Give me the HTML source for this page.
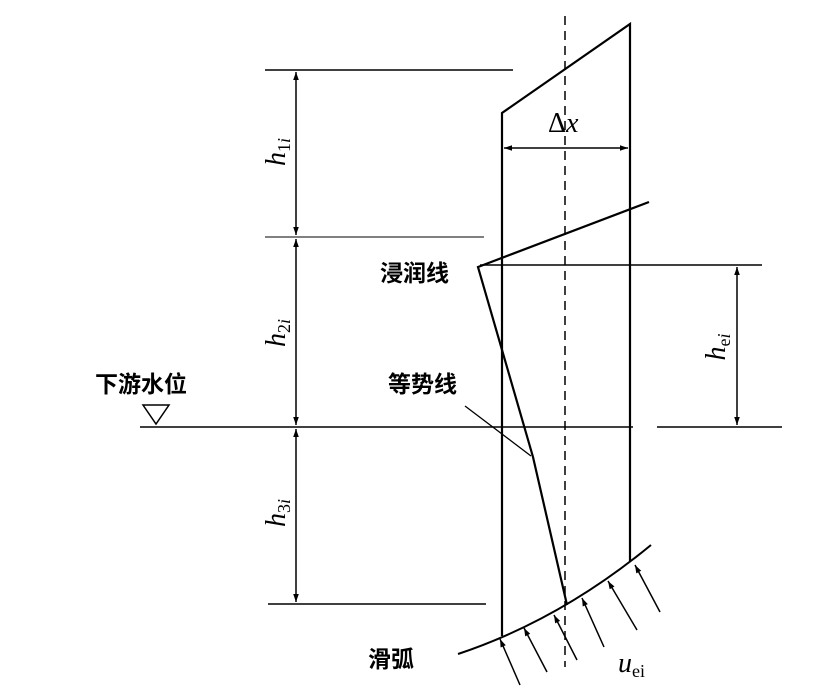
<!DOCTYPE html>
<html><head><meta charset="utf-8"><style>
html,body{margin:0;padding:0;background:#fff;}
svg{display:block}
.cn{font-family:"Liberation Sans","Noto Sans CJK SC",sans-serif;font-size:23px;font-weight:bold;fill:#000}
.it{font-family:"Liberation Serif",serif;font-style:italic;font-size:28px;fill:#000}
.up{font-family:"Liberation Serif",serif;font-size:28px;fill:#000}
.sub{font-family:"Liberation Serif",serif;font-size:18px;fill:#000}
</style></head><body>
<svg width="826" height="691" viewBox="0 0 826 691" xmlns="http://www.w3.org/2000/svg">
<defs>
<marker id="a" viewBox="0 0 10 10" refX="10" refY="5" markerWidth="12" markerHeight="8" orient="auto-start-reverse" markerUnits="userSpaceOnUse"><path d="M0,1.5 L10,5 L0,8.5 z" fill="#000"/></marker>
<marker id="b" viewBox="0 0 10 10" refX="10" refY="5" markerWidth="14" markerHeight="8" orient="auto-start-reverse" markerUnits="userSpaceOnUse"><path d="M0,1.5 L10,5 L0,8.5 z" fill="#000"/></marker>
</defs>
<g stroke="#000" fill="none">
<line x1="265" y1="70" x2="513" y2="70" stroke-width="1.5"/>
<line x1="265" y1="237" x2="484" y2="237" stroke-width="1"/>
<line x1="140" y1="427" x2="633" y2="427" stroke-width="1.5"/>
<line x1="657" y1="427" x2="782" y2="427" stroke-width="1.5"/>
<line x1="268" y1="604" x2="486" y2="604" stroke-width="1.5"/>
<line x1="480" y1="265" x2="762" y2="265" stroke-width="1.5"/>
<polyline points="502,636 502,113 630,24 630,561" stroke-width="2.2"/>
<line x1="565" y1="16" x2="565" y2="667" stroke-width="1.5" stroke-dasharray="9,6"/>
<line x1="504" y1="148" x2="628" y2="148" stroke-width="1.5" marker-start="url(#b)" marker-end="url(#b)"/>
<polyline points="649,202 478,267 533,457 567,605" stroke-width="2.2"/>
<line x1="465" y1="406" x2="531" y2="456" stroke-width="1.3"/>
<path d="M458,654 Q560,620 651,545" stroke-width="2"/>
<line x1="296" y1="72" x2="296" y2="235" stroke-width="1.5" marker-start="url(#a)" marker-end="url(#a)"/>
<line x1="296" y1="239" x2="296" y2="425" stroke-width="1.5" marker-start="url(#a)" marker-end="url(#a)"/>
<line x1="296" y1="429" x2="296" y2="602" stroke-width="1.5" marker-start="url(#a)" marker-end="url(#a)"/>
<line x1="737" y1="267" x2="737" y2="425" stroke-width="1.5" marker-start="url(#a)" marker-end="url(#a)"/>
<polygon points="143,405 169,405 156,424" stroke-width="1.5"/>
<g stroke-width="1.5">
<line x1="520" y1="685" x2="500" y2="639" marker-end="url(#a)"/>
<line x1="547" y1="672" x2="524" y2="628" marker-end="url(#a)"/>
<line x1="577" y1="660" x2="554" y2="615" marker-end="url(#a)"/>
<line x1="604" y1="647" x2="582" y2="598" marker-end="url(#a)"/>
<line x1="637" y1="630" x2="608" y2="581" marker-end="url(#a)"/>
<line x1="660" y1="612" x2="635" y2="565" marker-end="url(#a)"/>
</g>
</g>
<text x="548" y="132"><tspan class="up">Δ</tspan><tspan class="it">x</tspan></text>
<text class="cn" x="380" y="281">浸润线</text>
<text class="cn" x="388" y="392">等势线</text>
<text class="cn" x="95" y="392">下游水位</text>
<text class="cn" x="368" y="667">滑弧</text>
<text x="618" y="672"><tspan class="it">u</tspan><tspan class="sub" dy="5">ei</tspan></text>
<g transform="translate(285,152) rotate(-90)"><text text-anchor="middle"><tspan class="it">h</tspan><tspan class="sub" dy="5">1<tspan font-style="italic">i</tspan></tspan></text></g>
<g transform="translate(285,333) rotate(-90)"><text text-anchor="middle"><tspan class="it">h</tspan><tspan class="sub" dy="5">2<tspan font-style="italic">i</tspan></tspan></text></g>
<g transform="translate(285,513) rotate(-90)"><text text-anchor="middle"><tspan class="it">h</tspan><tspan class="sub" dy="5">3<tspan font-style="italic">i</tspan></tspan></text></g>
<g transform="translate(725,347) rotate(-90)"><text text-anchor="middle"><tspan class="it">h</tspan><tspan class="sub" dy="5">e<tspan font-style="italic">i</tspan></tspan></text></g>
</svg>
</body></html>
